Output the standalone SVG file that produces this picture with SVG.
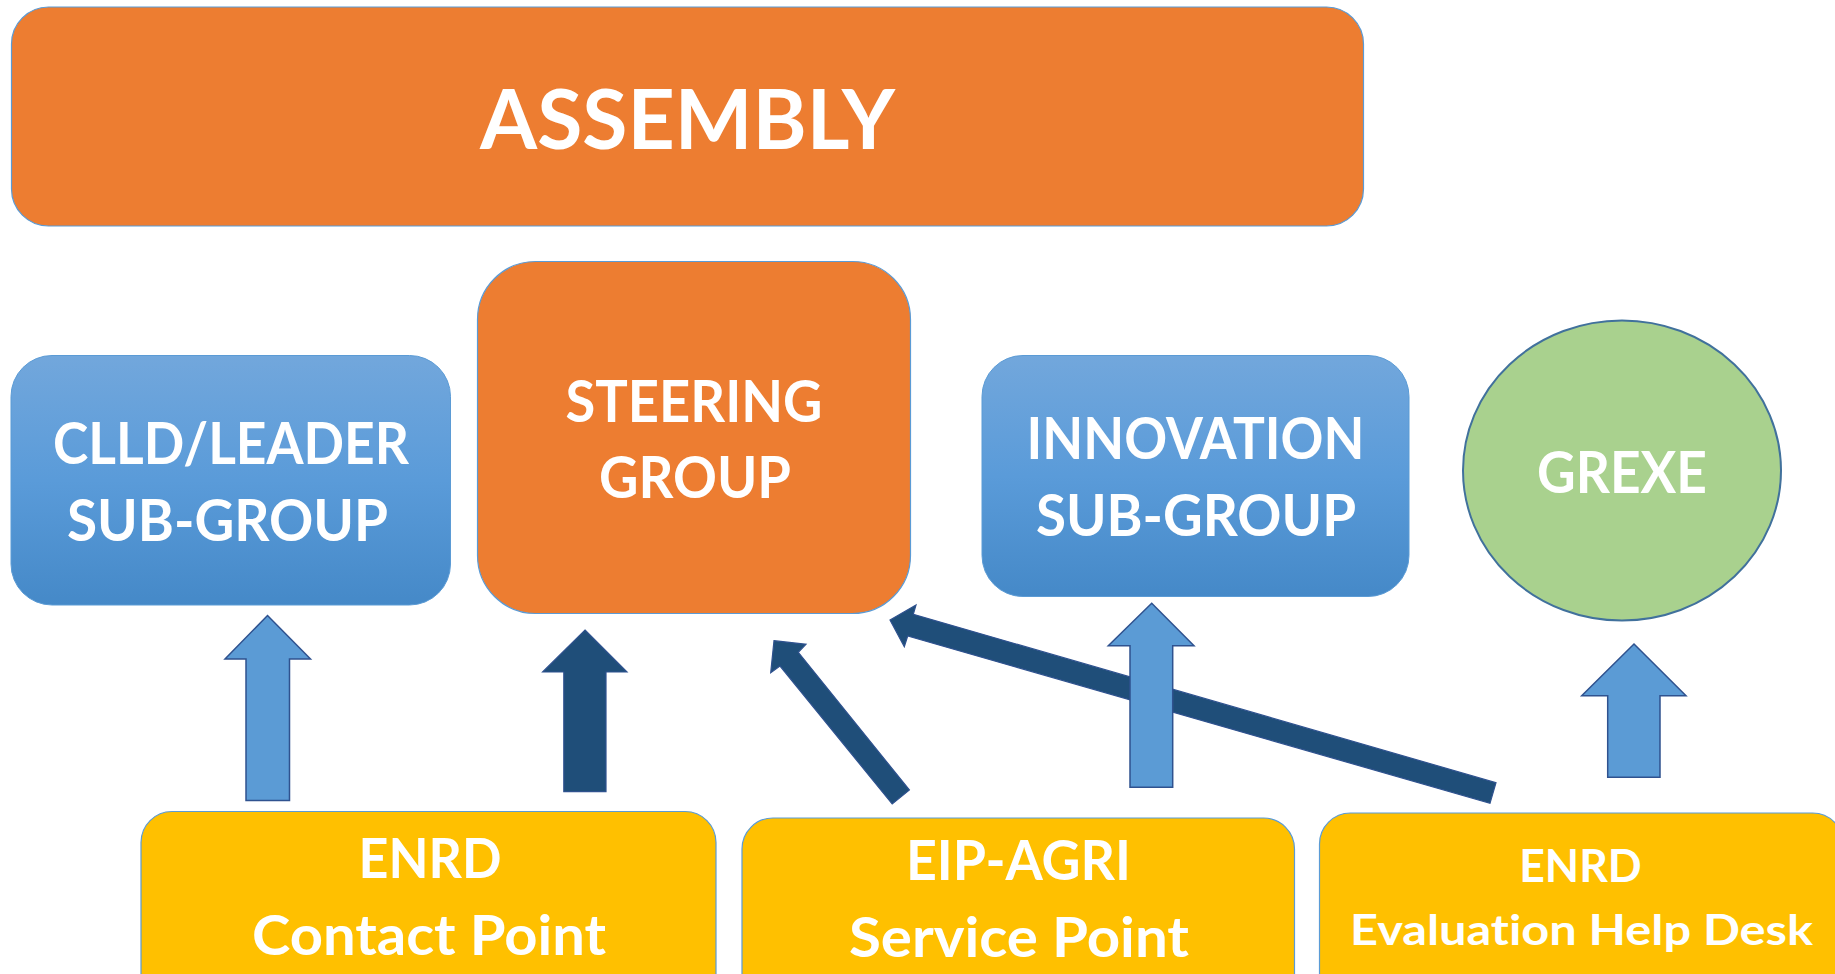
<svg xmlns="http://www.w3.org/2000/svg" width="1835" height="974" viewBox="0 0 1835 974">
  <style>
    .lbl { font-family: Lato, "Open Sans", "Liberation Sans", sans-serif; font-weight: bold; fill: #ffffff; text-anchor: middle; font-variant-ligatures: none; font-feature-settings: "liga" 0; }
    .orange { fill: #ed7d31; stroke: #5b9bd5; stroke-width: 1.2; }
    .blue { fill: url(#blueGrad); stroke: #5b9bd5; stroke-width: 1; }
    .yellow { fill: #ffc000; stroke: #5b9bd5; stroke-width: 1.2; }
    .green { fill: #a9d18e; stroke: #41719c; stroke-width: 2; }
    .arrowLight { fill: #5b9bd5; stroke: #2f528f; stroke-width: 1.5; stroke-linejoin: miter; }
    .arrowDark { fill: #1f4e79; stroke: #2f528f; stroke-width: 1.2; stroke-linejoin: miter; }
  </style>
  <defs>
    <linearGradient id="blueGrad" x1="0" y1="0" x2="0" y2="1">
      <stop offset="0" stop-color="#72a7dc"/>
      <stop offset="0.5" stop-color="#5a9bd9"/>
      <stop offset="1" stop-color="#4589c8"/>
    </linearGradient>
  </defs>
  <rect x="0" y="0" width="1835" height="974" fill="#ffffff"/>

  <g id="assembly">
    <rect class="orange" x="11.5" y="7" width="1352" height="219" rx="37" ry="37"/>
    <text class="lbl" x="687.5" y="148.5" font-size="83" textLength="415" lengthAdjust="spacingAndGlyphs">ASSEMBLY</text>
  </g>

  <g id="steering-group">
    <rect class="orange" x="477.5" y="261.5" width="433" height="352" rx="58" ry="58"/>
    <text class="lbl" x="694" y="421.5" font-size="57" textLength="257" lengthAdjust="spacingAndGlyphs">STEERING</text>
    <text class="lbl" x="695" y="498" font-size="57" textLength="192" lengthAdjust="spacingAndGlyphs">GROUP</text>
  </g>

  <g id="clld-leader-subgroup">
    <rect class="blue" x="11" y="355.5" width="439.5" height="249.5" rx="41" ry="41"/>
    <text class="lbl" x="231" y="464" font-size="57" textLength="356" lengthAdjust="spacingAndGlyphs">CLLD/LEADER</text>
    <text class="lbl" x="227.5" y="541" font-size="57" textLength="321" lengthAdjust="spacingAndGlyphs">SUB-GROUP</text>
  </g>

  <g id="innovation-subgroup">
    <rect class="blue" x="982" y="355.5" width="427" height="241" rx="41" ry="41"/>
    <text class="lbl" x="1195.5" y="459" font-size="57" textLength="338" lengthAdjust="spacingAndGlyphs">INNOVATION</text>
    <text class="lbl" x="1196" y="536" font-size="57" textLength="320" lengthAdjust="spacingAndGlyphs">SUB-GROUP</text>
  </g>

  <g id="grexe">
    <ellipse class="green" cx="1622" cy="470.5" rx="159" ry="150"/>
    <text class="lbl" x="1622" y="492.5" font-size="57" textLength="170" lengthAdjust="spacingAndGlyphs">GREXE</text>
  </g>

  <g id="enrd-contact-point">
    <rect class="yellow" x="141" y="811.5" width="575" height="200" rx="31" ry="31"/>
    <text class="lbl" x="430" y="877.5" font-size="56" textLength="143" lengthAdjust="spacingAndGlyphs">ENRD</text>
    <text class="lbl" x="429" y="955" font-size="56" textLength="354" lengthAdjust="spacingAndGlyphs">Contact Point</text>
  </g>

  <g id="eip-agri-service-point">
    <rect class="yellow" x="742" y="818" width="552.5" height="200" rx="31" ry="31"/>
    <text class="lbl" x="1018.5" y="880" font-size="56" textLength="225" lengthAdjust="spacingAndGlyphs">EIP-AGRI</text>
    <text class="lbl" x="1019" y="956.5" font-size="56" textLength="340" lengthAdjust="spacingAndGlyphs">Service Point</text>
  </g>

  <g id="enrd-evaluation-help-desk">
    <rect class="yellow" x="1319.5" y="813" width="524" height="200" rx="31" ry="31"/>
    <text class="lbl" x="1580.5" y="881.5" font-size="46.5" textLength="122.5" lengthAdjust="spacingAndGlyphs">ENRD</text>
    <text class="lbl" x="1581.5" y="945" font-size="42" textLength="463" lengthAdjust="spacingAndGlyphs">Evaluation Help Desk</text>
  </g>

  <g id="connectors">
    <polygon class="arrowDark" points="890,620 916,605 913.3,614.3 1496,782.7 1490,803.3 907.7,636 904.3,646.7"/>
    <polygon class="arrowDark" points="774,640.7 806,644.3 798.3,652.3 909.4,790 892.2,804 780,666 770.7,672.7"/>
    <polygon class="arrowDark" points="585,630 627,672 606,672 606,791.7 563.8,791.7 563.8,672 542.6,672"/>
    <polygon class="arrowLight" points="267.5,615.5 310.5,659 289.5,659 289.5,800.5 246,800.5 246,659 225,659"/>
    <polygon class="arrowLight" points="1151.7,603.3 1194,645.7 1172.7,645.7 1172.7,787.3 1130,787.3 1130,645.7 1108.3,645.7"/>
    <polygon class="arrowLight" points="1634,644 1686,695.7 1660,695.7 1660,777.3 1607.7,777.3 1607.7,695.7 1581.7,695.7"/>
  </g>
</svg>
